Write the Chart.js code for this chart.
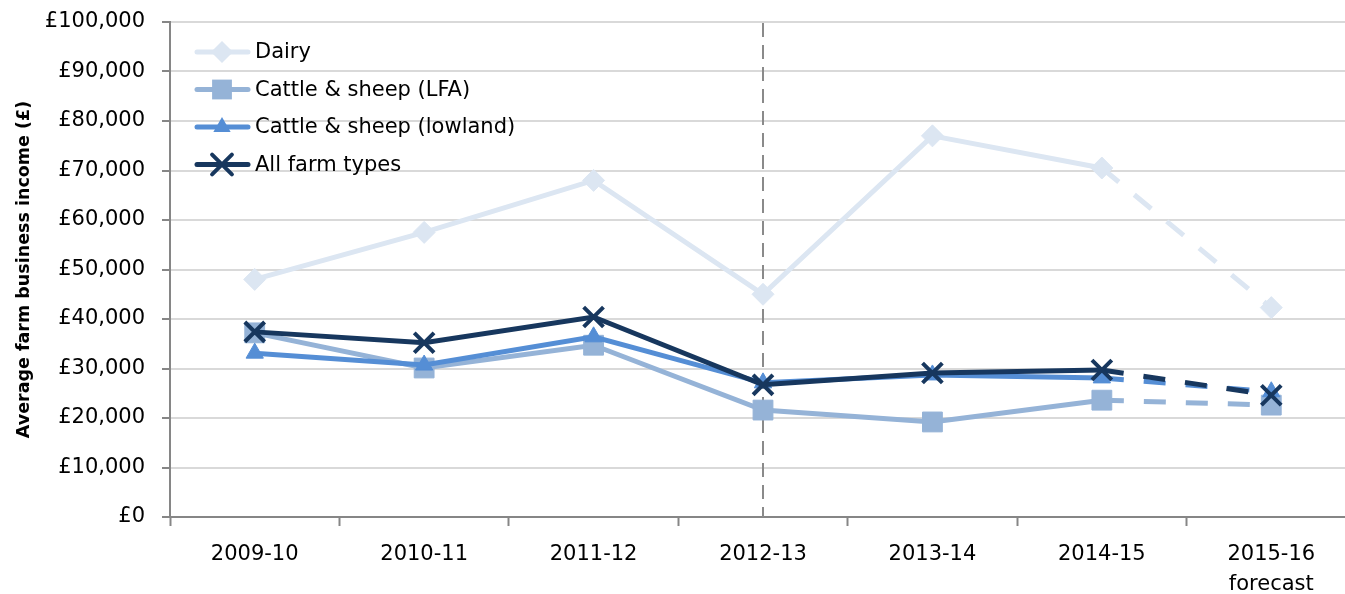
<!DOCTYPE html>
<html>
<head>
<meta charset="utf-8">
<script src="https://cdn.jsdelivr.net/npm/chart.js@4/dist/chart.umd.min.js"></script>
<style>
  html, body { margin: 0; padding: 0; background: #fff; overflow: hidden; }
  /* canvas is wider than the window: the plot runs off the right edge like the source */
  #wrap { position: relative; width: 1374px; height: 594px; }
</style>
</head>
<body>
<div id="wrap"><canvas id="farmChart" width="1374" height="594"></canvas></div>
<script>
const years = ['2009-10', '2010-11', '2011-12', '2012-13', '2013-14', '2014-15', ['2015-16', 'forecast']];
const dairy = [48000, 57500, 68000, 45000, 77000, 70500, 42300];
const cattleLfa = [37200, 30100, 34700, 21600, 19200, 23600, 22600];
const cattleLowland = [33100, 30700, 36400, 27100, 28700, 28100, 25300];
const allFarms = [37400, 35200, 40400, 26700, 29100, 29700, 24600];
const yTicks = [0, 10000, 20000, 30000, 40000, 50000, 60000, 70000, 80000, 90000, 100000];

const colors = {
    dairy: '#dce6f2',
    lfa: '#95b3d7',
    lowland: '#558ed5',
    all: '#17375e',
    grid: '#d9d9d9',
    axis: '#868686',
    text: '#000000'
};
const fontFamily = "'DejaVu Sans', 'Liberation Sans', sans-serif";

// last segment (to the forecast year) is dashed
const forecastDash = ctx => ctx.p1DataIndex === years.length - 1 ? [22, 20] : undefined;

const makeSeries = (label, data, color, style, radius, order) => ({
    label: label,
    data: data,
    borderColor: color,
    backgroundColor: color,
    pointBackgroundColor: color,
    pointBorderColor: color,
    pointStyle: style,
    pointRadius: radius,
    pointHoverRadius: radius,
    pointBorderWidth: style === 'crossRot' ? 4 : 1,
    borderWidth: 5,
    borderCapStyle: 'butt',
    tension: 0,
    order: order,
    segment: { borderDash: forecastDash }
});

const drawMarker = (ctx, style, x, y, r, color) => {
    ctx.save();
    ctx.fillStyle = color;
    ctx.strokeStyle = color;
    ctx.beginPath();
    if (style === 'rectRot') {
        ctx.moveTo(x, y - r); ctx.lineTo(x + r, y); ctx.lineTo(x, y + r); ctx.lineTo(x - r, y);
        ctx.closePath(); ctx.fill();
    } else if (style === 'rect') {
        const s = r * Math.SQRT1_2;
        ctx.rect(x - s, y - s, 2 * s, 2 * s); ctx.fill();
    } else if (style === 'triangle') {
        const side = r * 3 / Math.sqrt(3);
        const h = side * Math.sqrt(3) / 2;
        ctx.moveTo(x - side / 2, y + h / 3); ctx.lineTo(x + side / 2, y + h / 3); ctx.lineTo(x, y - 2 * h / 3);
        ctx.closePath(); ctx.fill();
    } else if (style === 'crossRot') {
        const d = r * Math.SQRT1_2;
        ctx.lineWidth = 4;
        ctx.moveTo(x - d, y - d); ctx.lineTo(x + d, y + d);
        ctx.moveTo(x - d, y + d); ctx.lineTo(x + d, y - d);
        ctx.stroke();
    }
    ctx.restore();
};

const dividerLine = {
    id: 'dividerLine',
    beforeDatasetsDraw(chart) {
        const { ctx, chartArea, scales } = chart;
        const x = Math.round(scales.x.getPixelForValue(3));
        ctx.save();
        ctx.strokeStyle = '#8a8a8a';
        ctx.lineWidth = 2;
        ctx.setLineDash([14, 8]);
        ctx.beginPath();
        ctx.moveTo(x, chartArea.top + 1);
        ctx.lineTo(x, chartArea.bottom);
        ctx.stroke();
        ctx.restore();
    }
};

const insideLegend = {
    id: 'insideLegend',
    afterDraw(chart) {
        const { ctx, chartArea } = chart;
        const x0 = chartArea.left + 25;
        const y0 = chartArea.top + 30;
        const step = 37.5;
        ctx.save();
        ctx.font = '21px ' + fontFamily;
        ctx.textBaseline = 'middle';
        chart.data.datasets.forEach((ds, i) => {
            const y = y0 + i * step;
            ctx.strokeStyle = ds.borderColor;
            ctx.lineWidth = 5;
            ctx.lineCap = 'round';
            ctx.beginPath();
            ctx.moveTo(x0 + 2, y);
            ctx.lineTo(x0 + 53, y);
            ctx.stroke();
            drawMarker(ctx, ds.pointStyle, x0 + 27, y, ds.pointRadius, ds.borderColor);
            ctx.fillStyle = colors.text;
            ctx.fillText(ds.label, x0 + 60, y + 1);
        });
        ctx.restore();
    }
};

const ctx = document.getElementById('farmChart').getContext('2d');
new Chart(ctx, {
    type: 'line',
    data: {
        labels: years,
        datasets: [
            makeSeries('Dairy', dairy, colors.dairy, 'rectRot', 11, 4),
            makeSeries('Cattle & sheep (LFA)', cattleLfa, colors.lfa, 'rect', 14, 3),
            makeSeries('Cattle & sheep (lowland)', cattleLowland, colors.lowland, 'triangle', 10, 2),
            makeSeries('All farm types', allFarms, colors.all, 'crossRot', 14, 1)
        ]
    },
    options: {
        responsive: false,
        animation: false,
        layout: { padding: { left: 14, top: 22, right: 0, bottom: 0 } },
        plugins: {
            legend: { display: false },
            tooltip: { enabled: false }
        },
        scales: {
            x: {
                offset: true,
                grid: {
                    offset: true,
                    drawOnChartArea: false,
                    drawTicks: true,
                    tickLength: 9,
                    tickColor: colors.axis,
                    tickWidth: 2
                },
                border: { color: colors.axis, width: 2 },
                ticks: {
                    color: colors.text,
                    font: { family: fontFamily, size: 21, lineHeight: 1.4 },
                    padding: 14,
                    maxRotation: 0,
                    autoSkip: false
                },
                afterFit: scale => {
                    scale.height = 77;
                    scale.paddingLeft = 0;
                    scale.paddingRight = 0;
                }
            },
            y: {
                min: 0,
                max: 100000,
                afterBuildTicks: scale => { scale.ticks = yTicks.map(v => ({ value: v })); },
                grid: {
                    color: colors.grid,
                    lineWidth: 2,
                    tickLength: 8,
                    tickColor: colors.axis,
                    tickWidth: 2
                },
                border: { color: colors.axis, width: 2 },
                ticks: {
                    color: colors.text,
                    font: { family: fontFamily, size: 21 },
                    padding: 17,
                    callback: v => '£' + Number(v).toLocaleString('en-GB')
                },
                title: {
                    display: true,
                    text: 'Average farm business income (£)',
                    color: colors.text,
                    font: { family: fontFamily, size: 17.5, weight: 'bold' },
                    padding: { top: 0, bottom: 0 }
                },
                afterFit: scale => {
                    scale.width = 156;
                    scale.paddingTop = 0;
                    scale.paddingBottom = 0;
                }
            }
        }
    },
    plugins: [dividerLine, insideLegend]
});
</script>
</body>
</html>
